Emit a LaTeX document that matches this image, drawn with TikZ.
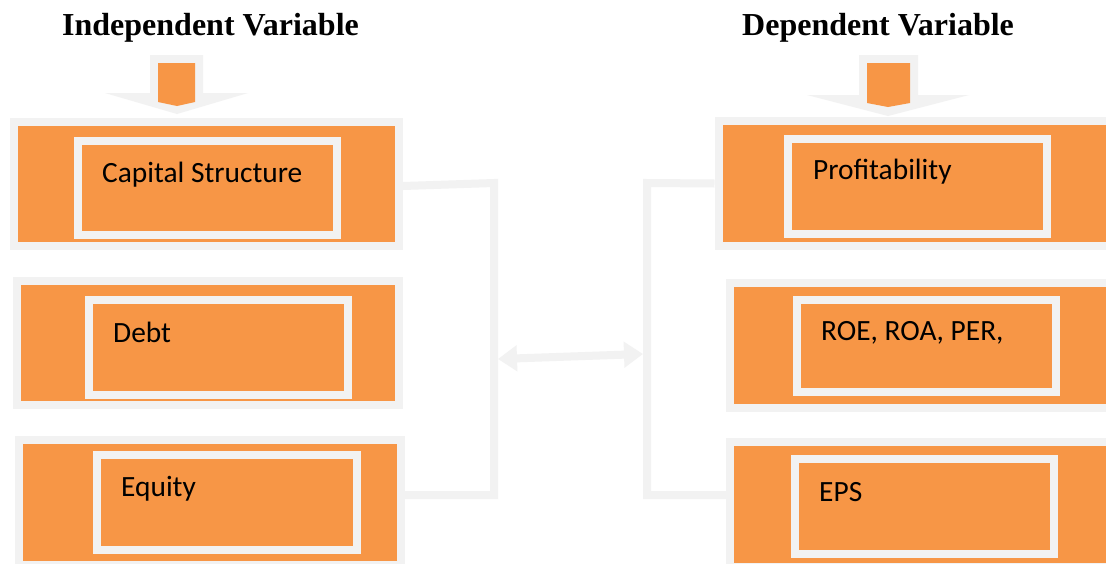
\documentclass[tikz,border=0pt]{standalone}
\usepackage{fontspec}
\setmainfont{Liberation Serif}
\newfontfamily\boxfont{Carlito}
\usetikzlibrary{arrows.meta}
\definecolor{lgray}{HTML}{F2F2F2}
\definecolor{org}{HTML}{F79646}
\tikzset{
  outerbox/.style={draw=lgray, fill=org, line width=8pt, inner sep=0pt, outer sep=4pt, rectangle},
  innerbox/.style={draw=lgray, fill=org, line width=8pt, inner sep=0pt, outer sep=4pt, rectangle},
  lbl/.style={anchor=base west, inner sep=0pt, font=\boxfont\fontsize{29.4}{34}\selectfont, text=black},
  ttl/.style={anchor=base west, inner sep=0pt, font=\bfseries\fontsize{32}{36}\selectfont, text=black},
  conn/.style={draw=lgray, line width=8pt},
  darrow/.style={draw=lgray, line width=8pt, {Triangle[length=19pt,width=25pt]}-{Triangle[length=19pt,width=25pt]}},
}
\begin{document}
\begin{tikzpicture}[x=1pt,y=-1pt]
\useasboundingbox (0,0) rectangle (1106,563);
\fill[white] (0,0) rectangle (1106,563);
\begin{scope}
\clip (0,0) rectangle (1106,563);
% titles
\node[ttl] (tI) at (62,35) {Independent Variable};
\node[ttl] (tD) at (742,35) {Dependent Variable};
% block arrows
\fill[lgray] (150,55) -- (203,55) -- (203,93) -- (248,93) -- (177,114) -- (105,93) -- (150,93) -- cycle;
\fill[org] (158,63) -- (195,63) -- (195,102) -- (177,106) -- (158,102) -- cycle;
\fill[lgray] (859,55) -- (918,55) -- (918,95) -- (969,95) -- (888,116) -- (807,95) -- (859,95) -- cycle;
\fill[org] (867,63) -- (910,63) -- (910,103) -- (888,107) -- (867,103) -- cycle;
% left outer boxes
\node[outerbox, minimum width=385pt, minimum height=124pt] (L1) at (206.5,184) {};
\node[outerbox, minimum width=382.5pt, minimum height=124pt] (L2) at (207.75,343) {};
\node[outerbox, minimum width=382.5pt, minimum height=125pt] (L3) at (209.75,502.5) {};
% right outer boxes
\node[outerbox, minimum width=400pt, minimum height=125pt] (R1) at (918.5,183.5) {};
\node[outerbox, minimum width=390pt, minimum height=124.5pt] (R2) at (925,345.25) {};
\node[outerbox, minimum width=390pt, minimum height=125pt] (R3) at (925,504.5) {};
% inner boxes
\node[innerbox, minimum width=259pt, minimum height=94pt] (iL1) at (207.5,188) {};
\node[innerbox, minimum width=259pt, minimum height=95pt] (iL2) at (218,347.5) {};
\node[innerbox, minimum width=259.5pt, minimum height=95pt] (iL3) at (226.75,502.5) {};
\node[innerbox, minimum width=259.5pt, minimum height=95pt] (iR1) at (917.25,186) {};
\node[innerbox, minimum width=259.5pt, minimum height=92pt] (iR2) at (926.25,346) {};
\node[innerbox, minimum width=259pt, minimum height=95pt] (iR3) at (924.5,506.5) {};
% labels
\node[lbl] (x1) at (102,182) {Capital Structure};
\node[lbl] (x2) at (113,342) {Debt};
\node[lbl] (x3) at (121,496) {Equity};
\node[lbl] (y1) at (813,179) {Profitability};
\node[lbl] (y2) at (821,340) {ROE, ROA, PER,};
\node[lbl] (y3) at (819,501) {EPS};
% connectors
\coordinate (lt) at (494,183);
\coordinate (lb) at (494,495);
\coordinate (rt) at (647,183);
\coordinate (rb) at (647,495);
\draw[conn] ([yshift=-2pt]L1.east) -- (lt) -- (lb) -- (lb -| L3.east);
\draw[conn] (R1.west) -- (rt) -- (rb) -- (rb -| R3.west);
\coordinate (aL) at (498,359);
\coordinate (aR) at (643,354);
\draw[darrow] (aL) -- (aR);
\end{scope}
\end{tikzpicture}
\end{document}
